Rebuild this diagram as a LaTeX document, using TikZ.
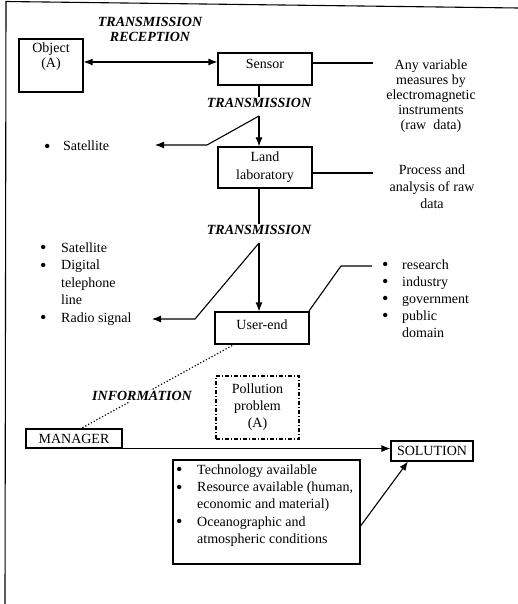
\documentclass[tikz,border=0pt]{standalone}
\usepackage{fontspec}
\setmainfont{Liberation Serif}
\usetikzlibrary{arrows.meta}
\newcommand\mybul[1][20pt]{\makebox[#1][l]{\smash{\raisebox{-0.2ex}{\scalebox{1.3}{\textbullet}}}}}
\begin{document}
\begin{tikzpicture}[x=1pt,y=-1pt,
  every node/.style={font=\fontsize{14}{16.5}\selectfont, inner sep=0pt},
  box/.style={draw, line width=1.1pt, inner sep=0pt},
  lbl/.style={font=\fontsize{14}{15}\selectfont\bfseries\itshape, align=center, inner sep=1pt},
  txt/.style={align=center},
  lst/.style={align=left, anchor=west},
  con/.style={line width=1.1pt},
  arr/.style={con, -{Latex[length=9pt,width=7pt]}},
  dbl/.style={con, {Latex[length=9pt,width=7pt]}-{Latex[length=9pt,width=7pt]}},
]
\useasboundingbox (0,0) rectangle (518,604);

% frame (left and top edges)
\coordinate (ftl) at (6,1.5);
\coordinate (ftr) at (518,8);
\coordinate (fbl) at (5,604);
\draw[line width=1.1pt] (fbl) -- (ftl) -- (ftr);

% boxes
\node[box, minimum width=64pt, minimum height=53pt] (obj) at (51,65.5) {};
\node[txt, font=\fontsize{14}{15}\selectfont] (objt) at (51,57) {Object\\(A)};
\node[box, minimum width=94pt, minimum height=32pt] (sensor) at (265,69) {};
\node[txt] (sensort) at (265,63.5) {Sensor};
\node[box, txt, font=\fontsize{14}{18}\selectfont, minimum width=94pt, minimum height=41pt] (land) at (265,167.5) {Land\\laboratory};
\node[box, minimum width=94pt, minimum height=32pt] (user) at (262,328) {};
\node[txt] (usert) at (262,325) {User-end};
\node[box, txt, font=\fontsize{14}{17}\selectfont, dash pattern=on 4pt off 2pt on 1pt off 2pt, minimum width=83pt, minimum height=63pt] (poll) at (257.5,407.5) {Pollution\\problem\\(A)};
\node[box, minimum width=96pt, minimum height=19pt] (mgr) at (74,438.5) {MANAGER};
\node[box, minimum width=82pt, minimum height=20pt] (sol) at (432,451) {SOLUTION};
\node[box, minimum width=187pt, minimum height=104pt] (bb) at (266.5,512) {};
\node[lst, font=\fontsize{14}{17.25}\selectfont] (bbt) at (176,505.6)
  {\mybul[21pt]Technology available\\
   \mybul[21pt]Resource available (human,\\
   \makebox[21pt]{}economic and material)\\
   \mybul[21pt]Oceanographic and\\
   \makebox[21pt]{}atmospheric conditions};

% labels
\node[lbl] (trrec) at (150,29.5) {TRANSMISSION\\RECEPTION};
\node[lbl] (t1) at (259,103) {TRANSMISSION};
\node[lbl] (t2) at (259,230) {TRANSMISSION};

% side texts
\node[txt, font=\fontsize{14}{15}\selectfont] (rt1) at (431,96)
  {Any variable\\measures by\\electromagnetic\\instruments\\(raw\ \ data)};
\node[txt, font=\fontsize{14}{17}\selectfont] (rt2) at (432,187)
  {Process and\\analysis of raw\\data};
\node[lst] (s1) at (44,146) {\mybul[19pt]Satellite};
\node[lst, font=\fontsize{14}{17.5}\selectfont] (l2) at (40,284)
  {\mybul[21pt]Satellite\\
   \mybul[21pt]Digital\\
   \makebox[21pt]{}telephone\\
   \makebox[21pt]{}line\\
   \mybul[21pt]Radio signal};
\node[lst, font=\fontsize{14}{17}\selectfont] (r2) at (382,298.6)
  {\mybul[20pt]research\\
   \mybul[20pt]industry\\
   \mybul[20pt]government\\
   \mybul[20pt]public\\
   \makebox[20pt]{}domain};

% coordinates
\coordinate (ap1) at (259,116);
\coordinate (b1) at (207,145);
\coordinate (tip1) at (155,145);
\coordinate (ap2) at (259,243);
\coordinate (b2) at (195,319);
\coordinate (tip2) at (152,319);
\coordinate (e1) at (373,63);
\coordinate (e2) at (373,173);
\coordinate (ue1) at (309,311);
\coordinate (ue2) at (341,266);
\coordinate (ue3) at (372,266);
\coordinate (dstart) at (235,344);
\coordinate (dend) at (80,429);

% connectors
\draw[dbl] (obj.east |- 0,62) -- (sensor.west |- 0,62);
\draw[con] (sensor.east |- e1) -- (e1);
\draw[con] (sensor.south -| ap1) -- (t1.north);
\draw[arr] (ap1) -- (land.north -| ap1);
\draw[arr] (ap1) -- (b1) -- (tip1);
\draw[con] (land.east |- e2) -- (e2);
\draw[con] (land.south -| ap2) -- (t2.north);
\draw[arr] (ap2) -- (user.north -| ap2);
\draw[arr] (ap2) -- (b2) -- (tip2);
\draw[con] (ue1) -- (ue2) -- (ue3);
\draw[dotted, line width=1.2pt] (dstart) -- (dend);
\node[lbl, fill=white] (info) at (142,396) {INFORMATION};
\draw[arr] (mgr.south east) -- (sol.west |- mgr.south east);
\draw[arr] (bb.east |- 0,526) -- ([xshift=-24pt]sol.south);
\end{tikzpicture}
\end{document}
